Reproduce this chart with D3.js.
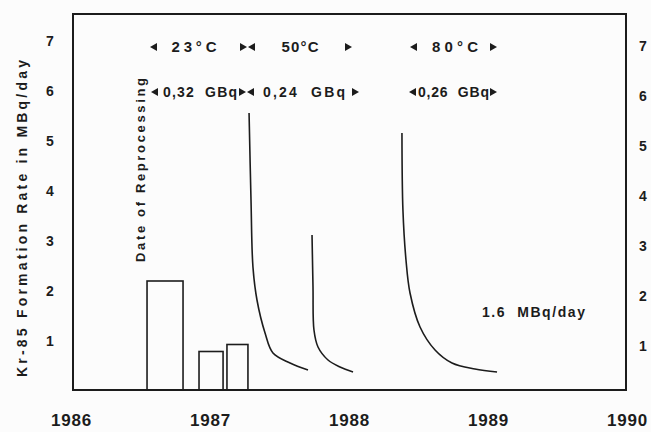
<!DOCTYPE html>
<html>
<head>
<meta charset="utf-8">
<script src="https://cdn.jsdelivr.net/npm/d3@7"></script>
<style>
  body { margin: 0; background: #fcfcfc; }
  svg { display: block; font-family: "Liberation Sans", Arial, sans-serif; }
  text { fill: #1c1c1c; font-weight: bold; }
</style>
</head>
<body>
<svg width="651" height="432"></svg>
<script>
// data
const yearTicks = [1986, 1987, 1988, 1989, 1990];
const rateTicks = [1, 2, 3, 4, 5, 6, 7];

// bars: start year, end year, rate (MBq/day)
const barStart = [1986.547, 1986.921, 1987.122];
const barEnd   = [1986.806, 1987.094, 1987.273];
const barRate  = [2.18, 0.77, 0.91];

// decay curves after each reprocessing: [year, rate]
const decay23 = [[1987.281, 5.54], [1987.295, 3.80], [1987.309, 2.46], [1987.338, 1.80],
                 [1987.396, 1.14], [1987.453, 0.74], [1987.576, 0.54], [1987.705, 0.40]];
const decay50 = [[1987.734, 3.10], [1987.741, 2.06], [1987.748, 1.20], [1987.777, 0.86],
                 [1987.849, 0.60], [1987.935, 0.46], [1988.029, 0.36]];
const decay80 = [[1988.381, 5.14], [1988.388, 3.60], [1988.410, 2.60], [1988.439, 1.94],
                 [1988.511, 1.26], [1988.619, 0.80], [1988.741, 0.54], [1988.906, 0.42],
                 [1989.065, 0.36]];

const tempLabels = ["23°C", "50°C", "80°C"];
const doseLabels = ["0,32  GBq", "0,24  GBq", "0,26  GBq"];
const rateNote = "1.6  MBq/day";

const svg = d3.select('svg');

const x = d3.scaleLinear().domain([1986, 1990]).range([71, 627]);
const y = d3.scaleLinear().domain([0, 7.52]).range([390, 14]);

// frame
svg.append('rect')
  .attr('x', 73).attr('y', y(7.52))
  .attr('width', 553).attr('height', y(0) - y(7.52))
  .attr('fill', 'none').attr('stroke', '#1c1c1c').attr('stroke-width', 2);

// left axis
let yAxis = svg.append('g').attr('transform', 'translate(50,0)')
  .call(d3.axisLeft(y).tickValues(rateTicks).tickSize(0).tickPadding(0));
yAxis.select('.domain').remove();
yAxis.selectAll('text').attr('text-anchor', 'middle').attr('dy', '0.36em')
  .style('font-size', '14px').style('font-family', null);

// right axis (cut by the picture edge)
let yAxisR = svg.append('g').attr('transform', 'translate(639,5)')
  .call(d3.axisRight(y).tickValues(rateTicks).tickSize(0).tickPadding(0));
yAxisR.select('.domain').remove();
yAxisR.selectAll('text').attr('dy', '0.36em')
  .style('font-size', '14px').style('font-family', null);

// bottom axis
let xAxis = svg.append('g').attr('transform', 'translate(0,410)')
  .call(d3.axisBottom(x).tickValues(yearTicks).tickFormat(d3.format('d')).tickSize(0).tickPadding(0));
xAxis.select('.domain').remove();
xAxis.selectAll('text').attr('dy', '0.95em')
  .style('font-size', '17px').style('font-family', null)
  .style('letter-spacing', '0.8px');

// y title
svg.append('text')
  .attr('transform', `translate(27,${(60 + 377) / 2}) rotate(-90)`)
  .attr('text-anchor', 'middle')
  .style('font-size', '14px')
  .attr('textLength', 317).attr('lengthAdjust', 'spacing')
  .text('Kr-85 Formation Rate in MBq/day');

// bars
svg.selectAll('.bar')
  .data(barRate)
  .join('rect')
  .attr('class', 'bar')
  .attr('x', (d, i) => x(barStart[i]))
  .attr('width', (d, i) => x(barEnd[i]) - x(barStart[i]))
  .attr('y', d => y(d))
  .attr('height', d => y(0) - y(d))
  .attr('fill', 'none')
  .attr('stroke', '#1c1c1c')
  .attr('stroke-width', 1.6);

// decay curves
const line = d3.line()
  .x(d => x(d[0]))
  .y(d => y(d[1]))
  .curve(d3.curveCatmullRom.alpha(0.5));

svg.selectAll('.decay')
  .data([decay23, decay50, decay80])
  .join('path')
  .attr('class', 'decay')
  .attr('d', line)
  .attr('fill', 'none')
  .attr('stroke', '#1c1c1c')
  .attr('stroke-width', 1.6);

// date of reprocessing label
svg.append('text')
  .attr('transform', `translate(145,${(78 + 262) / 2}) rotate(-90)`)
  .attr('text-anchor', 'middle')
  .style('font-size', '13px')
  .attr('textLength', 184).attr('lengthAdjust', 'spacing')
  .text('Date of Reprocessing');

// small arrow heads
function arrow(px, py, dir) {
  let w = 7, h = 4;
  let pts = dir > 0
    ? [[px, py - h], [px + w, py], [px, py + h]]
    : [[px + w, py - h], [px, py], [px + w, py + h]];
  svg.append('path')
    .attr('d', 'M' + pts.join('L') + 'Z')
    .attr('fill', '#1c1c1c');
}

// temperature row
const rowT = y(6.86);
const tempCenters = [194, 300, 455];
const tempWidths = [45, 37, 46];
tempLabels.forEach((t, i) => {
  svg.append('text')
    .attr('x', tempCenters[i]).attr('y', rowT)
    .attr('dy', '0.36em').attr('text-anchor', 'middle')
    .style('font-size', '15px')
    .attr('textLength', tempWidths[i]).attr('lengthAdjust', 'spacing')
    .text(t);
});
arrow(150, rowT, -1); arrow(240, rowT, 1); arrow(248, rowT, -1);
arrow(345, rowT, 1); arrow(410, rowT, -1); arrow(490, rowT, 1);

// dose row
const rowD = y(5.96);
const doseStarts = [163, 263, 418];
const doseWidths = [74, 82, 71];
doseLabels.forEach((t, i) => {
  svg.append('text')
    .attr('x', doseStarts[i]).attr('y', rowD)
    .attr('dy', '0.36em')
    .style('font-size', '14px')
    .attr('textLength', doseWidths[i]).attr('lengthAdjust', 'spacing')
    .style('white-space', 'pre')
    .text(t);
});
arrow(151, rowD, -1); arrow(239, rowD, 1); arrow(247, rowD, -1);
arrow(352, rowD, 1); arrow(409, rowD, -1); arrow(490, rowD, 1);

// level note
svg.append('text')
  .attr('x', 482).attr('y', y(1.56))
  .attr('dy', '0.36em')
  .style('font-size', '14px')
  .style('white-space', 'pre')
  .attr('textLength', 103).attr('lengthAdjust', 'spacing')
  .text(rateNote);
</script>
</body>
</html>
